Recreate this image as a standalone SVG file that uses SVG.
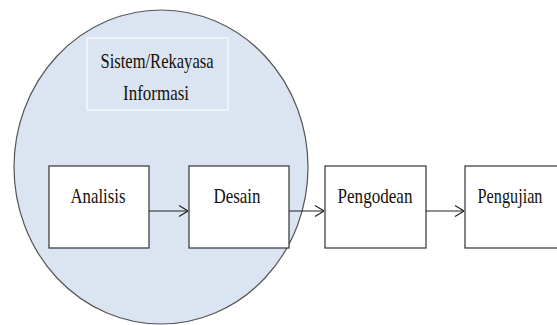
<svg xmlns="http://www.w3.org/2000/svg" width="557" height="325" viewBox="0 0 557 325">
<style>
.box{fill:#fff;stroke:#333;stroke-width:1.2}
.t{font-family:"Liberation Serif","Times New Roman",serif;font-size:22px;fill:#15100a;text-anchor:middle}
.c{stroke:#222;stroke-width:1.2;fill:none}
</style>
<defs>
<marker id="ah" viewBox="0 0 10 12" refX="10" refY="6" markerWidth="10" markerHeight="12" markerUnits="userSpaceOnUse" orient="auto">
<path d="M1,0.5 L10,6 L1,11.5" fill="none" stroke="#222" stroke-width="1.1"/>
</marker>
</defs>
<g id="scope">
<ellipse cx="161" cy="167" rx="147" ry="157" fill="#dbe5f1" stroke="#555" stroke-width="1.2"/>
<rect x="87" y="38" width="141" height="72" fill="#dbe5f1" stroke="#fff" stroke-width="1"/>
<text class="t" x="157" y="68" textLength="113" lengthAdjust="spacingAndGlyphs">Sistem/Rekayasa</text>
<text class="t" x="156" y="100" textLength="66" lengthAdjust="spacingAndGlyphs">Informasi</text>
</g>
<g id="analisis">
<rect class="box" x="49" y="166" width="100" height="82"/>
<text class="t" x="98" y="203" textLength="55" lengthAdjust="spacingAndGlyphs">Analisis</text>
</g>
<g id="desain">
<rect class="box" x="189" y="166" width="100" height="82"/>
<text class="t" x="237" y="203" textLength="47" lengthAdjust="spacingAndGlyphs">Desain</text>
</g>
<g id="pengodean">
<rect class="box" x="325" y="166" width="101" height="82"/>
<text class="t" x="375" y="203" textLength="75" lengthAdjust="spacingAndGlyphs">Pengodean</text>
</g>
<g id="pengujian">
<rect class="box" x="465" y="166" width="100" height="82"/>
<text class="t" x="510" y="203" textLength="65" lengthAdjust="spacingAndGlyphs">Pengujian</text>
</g>
<g id="connectors">
<line class="c" x1="149" y1="211" x2="188" y2="211" marker-end="url(#ah)"/>
<line class="c" x1="289" y1="211" x2="324" y2="211" marker-end="url(#ah)"/>
<line class="c" x1="426" y1="211" x2="464" y2="211" marker-end="url(#ah)"/>
</g>
</svg>
